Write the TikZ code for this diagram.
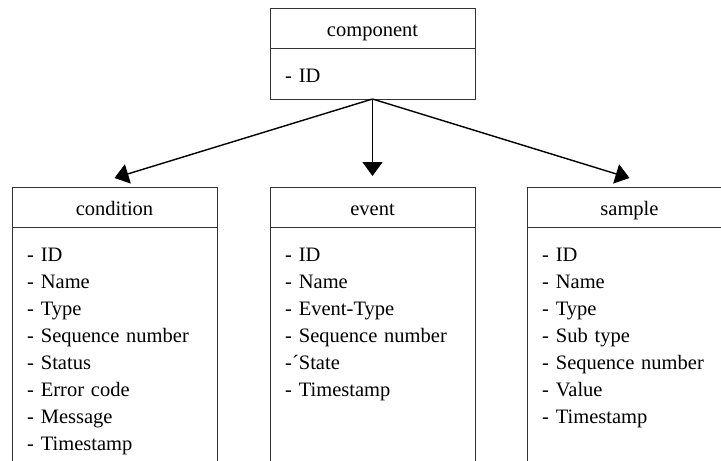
\documentclass[tikz,border=0pt]{standalone}
\usepackage{fontspec}
\setmainfont{Liberation Serif}
\usetikzlibrary{arrows.meta,positioning}
\tikzset{
    cls/.style={draw=black!80,line width=0.8pt,minimum width=205pt,minimum height=40pt,inner sep=0pt,outer sep=0pt,text height=18pt,text depth=2pt,font=\fontsize{20.5}{27}\selectfont},
    attrbox/.style={draw=black!80,line width=0.8pt,minimum width=205pt,inner sep=0pt,outer sep=0pt},
    attrs/.style={align=left,text width=185pt,inner sep=0pt,font=\fontsize{20.5}{27}\selectfont,execute at begin node=\strut},
    line/.style={-{Triangle[length=14pt,width=20pt]},line width=1.4pt},
}
\begin{document}
\begin{tikzpicture}[x=1pt,y=-1pt]
                \clip (0,0) rectangle (721,461);
                \node[cls] (comp) at (372.5,28) {component};
                \node[attrbox,minimum height=51pt,below=0pt of comp] (compb) {};
                \node[attrs,below right=15.5pt and 15pt of compb.north west] {- ID};
                \node[cls,below=88pt of compb] (evt) {event};
                \node[cls,left=53pt of evt] (cond) {condition};
                \node[cls,right=52pt of evt] (smp) {sample};
                \node[attrbox,minimum height=260pt,below=0pt of cond] (condb) {};
                \node[attrbox,minimum height=260pt,below=0pt of evt] (evtb) {};
                \node[attrbox,minimum height=260pt,below=0pt of smp] (smpb) {};
                \node[attrs,below right=15.5pt and 15pt of condb.north west] {- ID\\- Name\\- Type\\- Sequence number\\- Status\\- Error code\\- Message\\- Timestamp};
                \node[attrs,below right=15.5pt and 15pt of evtb.north west] {- ID\\- Name\\- Event-Type\\- Sequence number\\-´State\\- Timestamp};
                \node[attrs,below right=15.5pt and 15pt of smpb.north west] {- ID\\- Name\\- Type\\- Sub type\\- Sequence number\\- Value\\- Timestamp};
                \draw[line] (compb.south) -- ([yshift=9pt]cond.north);
                \draw[line] (compb.south) -- ([yshift=11pt]evt.north);
                \draw[line] (compb.south) -- ([yshift=9pt]smp.north);
            \end{tikzpicture}
\end{document}
